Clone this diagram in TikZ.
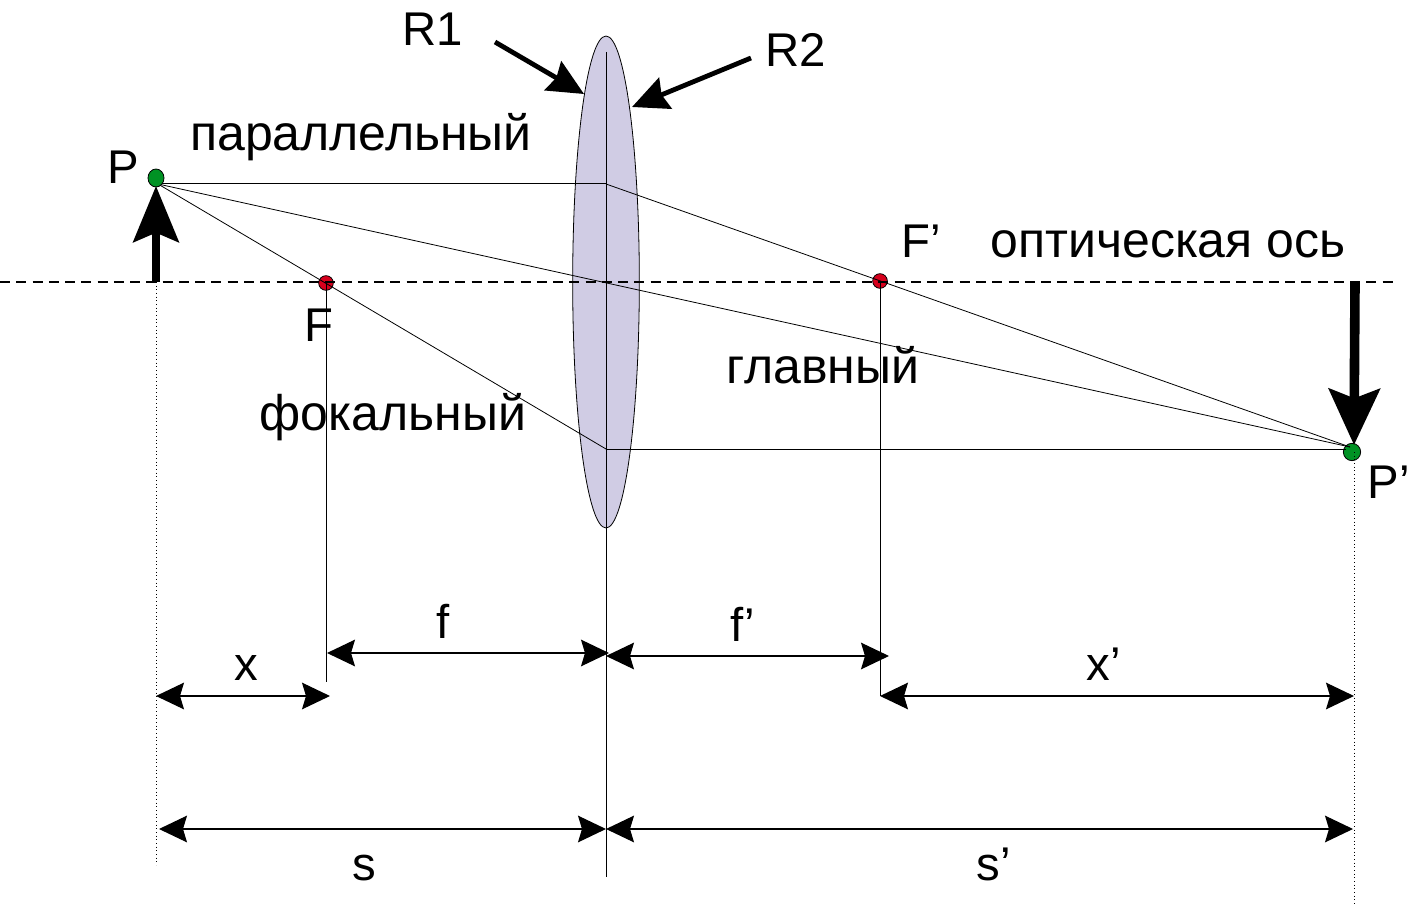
\documentclass[tikz,border=0pt]{standalone}
\usepackage{fontspec}
\setmainfont{Liberation Sans}
\usetikzlibrary{arrows.meta,shapes.geometric}
\definecolor{lensfill}{RGB}{208,204,228}
\definecolor{dotgreen}{RGB}{0,146,36}
\definecolor{dotred}{RGB}{214,0,28}
\tikzset{
  lbl/.style={anchor=base,inner sep=0pt,font=\fontsize{35.5}{40}\selectfont},
  wordlbl/.style={lbl,font=\fontsize{37.5}{42}\selectfont},
  ray/.style={line width=0.75pt},
  thin ray/.style={line width=0.6pt},
  dim/.style={line width=0.9pt,{Stealth[length=21pt,width=20pt,inset=3pt]}-{Stealth[length=21pt,width=20pt,inset=3pt]}},
  fat/.style={line width=6pt,-{Stealth[length=42pt,width=34pt,inset=7pt]}},
  pointer/.style={line width=3.6pt,-{Stealth[length=27pt,width=25pt,inset=3pt]}},
  guide/.style={line width=0.75pt,dotted},
  dotpt/.style={ellipse,draw=black,line width=0.6pt,inner sep=0pt,minimum width=12pt,minimum height=12pt}
}
\begin{document}
\begin{tikzpicture}[x=0.75pt,y=0.75pt,yscale=-1,xscale=1]
\useasboundingbox (0,0) rectangle (1409,905);

%Lens
\node [ellipse,draw=black,fill=lensfill,line width=0.6pt,inner sep=0pt,minimum width=50pt,minimum height=369pt] (lens) at (606,282) {};

%Points on the axis
\node [dotpt,fill=dotred,minimum width=11pt,minimum height=11pt] (F) at (326,283) {};
\node [dotpt,fill=dotred,minimum width=11pt,minimum height=11pt] (Fp) at (880,281) {};
\node [dotpt,fill=dotgreen,minimum width=13pt,minimum height=13pt] (Pp) at (1352,452) {};

\coordinate (axisL) at (0,282);
\coordinate (axisR) at (1395,282);
\coordinate (lensT) at (606,52);
\coordinate (lensB) at (606,877);
\coordinate (lensU) at (606,184);
\coordinate (lensD) at (606,449);
\coordinate (rayP) at (158,184);
\coordinate (rayPp) at (1350,447);
\coordinate (flatPp) at (1346,449);
\coordinate (footP) at (156,282);
\coordinate (endP) at (156,865);
\coordinate (startPp) at (1354,452);
\coordinate (endPp) at (1354,905);
\coordinate (endF) at (326,682);
\coordinate (endFp) at (880,696);

%Axis and verticals
\draw [line width=2.1pt,dash pattern=on 7.5pt off 4.7pt] (axisL) -- (axisR);
\draw [ray] (lensT) -- (lensB);
\draw [ray] (F.center) -- (endF);
\draw [ray] (Fp.center) -- (endFp);
\draw [guide] (footP) -- (endP);
\draw [guide] (startPp) -- (endPp);

%Rays
\draw [ray] (rayP) -- (lensU);
\draw [thin ray] (lensU) -- (rayPp);
\draw [thin ray] (rayP) -- (rayPp);
\draw [thin ray] (rayP) -- (lensD);
\draw [ray] (lensD) -- (flatPp);

%Object and image
\node [dotpt,fill=dotgreen,minimum height=13.5pt] (P) at (156,178) {};
\coordinate (tipP) at (156,186);
\coordinate (imgT) at (1355,282);
\coordinate (imgB) at (1354,445);
\draw [fat] (footP) -- (tipP);
\draw [fat,line width=7.2pt,-{Stealth[length=42pt,width=38pt,inset=7pt]}] (imgT) -- (imgB);

%Radius pointers
\coordinate (ptrA) at (495,42);
\coordinate (ptrB) at (584,94);
\coordinate (ptrC) at (751,58);
\coordinate (ptrD) at (632,107);
\draw [pointer] (ptrA) -- (ptrB);
\draw [pointer] (ptrC) -- (ptrD);

%Dimension lines
\coordinate (dxA) at (156,696);
\coordinate (dxB) at (330,696);
\coordinate (dfA) at (327,653);
\coordinate (dfB) at (609,653);
\coordinate (dfpA) at (606,656);
\coordinate (dfpB) at (889,656);
\coordinate (dxpA) at (880,696);
\coordinate (dxpB) at (1354,696);
\coordinate (dsA) at (159,829);
\coordinate (dsB) at (606,829);
\coordinate (dspA) at (606,829);
\coordinate (dspB) at (1353,829);
\draw [dim] (dxA) -- (dxB);
\draw [dim] (dfA) -- (dfB);
\draw [dim] (dfpA) -- (dfpB);
\draw [dim] (dxpA) -- (dxpB);
\draw [dim] (dsA) -- (dsB);
\draw [dim] (dspA) -- (dspB);

% Text Node
\node [lbl] (tR1) at (433,46) {R1};
\node [lbl] (tR2) at (796,67) {R2};
\node [wordlbl] (tpar) at (361,151) {параллельный};
\node [lbl] (tP) at (123,184) {P};
\node [lbl] (tFp) at (921,258) {F’};
\node [wordlbl] (taxis) at (1168,258) {оптическая ось};
\node [lbl] (tF) at (319,342) {F};
\node [wordlbl] (tmain) at (823,383) {главный};
\node [wordlbl] (tfoc) at (393,430) {фокальный};
\node [lbl] (tPp) at (1389,498) {P’};
\node [lbl] (tf) at (443,638) {f};
\node [lbl] (tfp) at (743,641) {f’};
\node [lbl] (tx) at (246,680) {x};
\node [lbl] (txp) at (1104,680) {x’};
\node [lbl] (ts) at (364,880) {s};
\node [lbl] (tsp) at (994,880) {s’};

\end{tikzpicture}
\end{document}
